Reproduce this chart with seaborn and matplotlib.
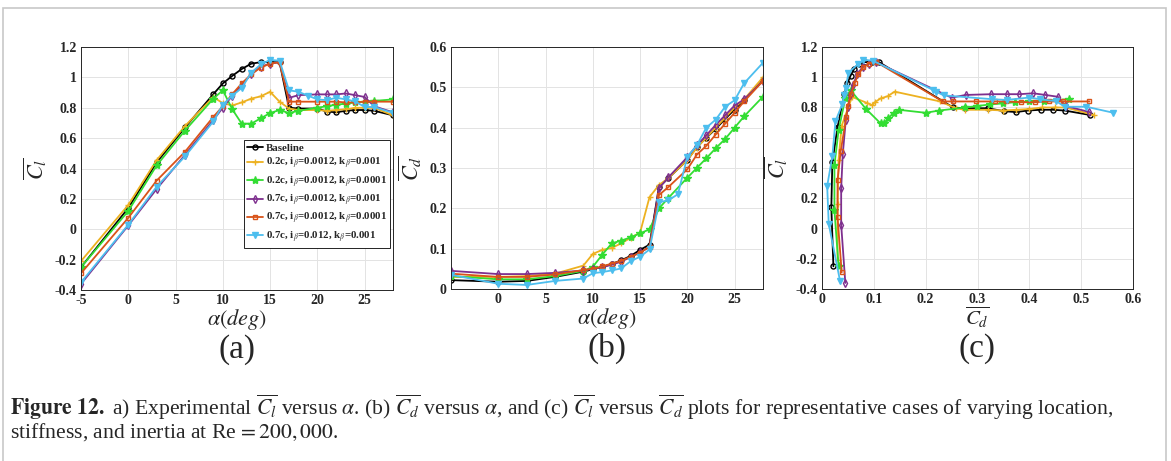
import numpy as np
import pandas as pd
import matplotlib
matplotlib.use("Agg")
import matplotlib.pyplot as plt
import seaborn as sns
from matplotlib.patches import Rectangle
from matplotlib.ticker import FuncFormatter

# ---------------- data ----------------
alpha = [-5, 0, 3, 6, 9, 10, 11, 12, 13, 14, 15, 16, 17, 18, 20, 21, 22, 23, 24, 25, 26, 28]
alpha_blue = [-5, 0, 3, 6, 9, 10, 11, 12, 13, 14, 15, 16, 17, 18, 19, 20, 21, 22, 23, 24, 25, 26, 28]

cl_base = [-0.25, 0.14, 0.44, 0.67, 0.89, 0.96, 1.01, 1.055, 1.09, 1.10, 1.10, 1.10,
           0.80, 0.795, 0.795, 0.775, 0.77, 0.78, 0.785, 0.785, 0.78, 0.75]
cd_base = [0.022, 0.018, 0.020, 0.030, 0.043, 0.049, 0.055, 0.062, 0.071, 0.082, 0.097, 0.110,
           0.253, 0.275, 0.320, 0.352, 0.375, 0.397, 0.422, 0.445, 0.468, 0.518]

cl_yellow = [-0.21, 0.16, 0.455, 0.68, 0.87, 0.83, 0.815, 0.835, 0.86, 0.875, 0.905, 0.84,
             0.795, 0.785, 0.785, 0.78, 0.785, 0.79, 0.80, 0.80, 0.80, 0.75]
cd_yellow = [0.030, 0.030, 0.032, 0.038, 0.058, 0.087, 0.097, 0.102, 0.113, 0.127, 0.140, 0.228,
             0.258, 0.275, 0.320, 0.350, 0.375, 0.400, 0.425, 0.450, 0.470, 0.525]

cl_green = [-0.25, 0.12, 0.42, 0.65, 0.86, 0.915, 0.79, 0.695, 0.695, 0.73, 0.765, 0.785,
            0.765, 0.78, 0.80, 0.81, 0.82, 0.827, 0.835, 0.84, 0.845, 0.855]
cd_green = [0.032, 0.024, 0.024, 0.032, 0.045, 0.055, 0.085, 0.113, 0.120, 0.128, 0.138, 0.148,
            0.200, 0.226, 0.276, 0.300, 0.324, 0.349, 0.372, 0.400, 0.428, 0.477]

cl_purple = [-0.36, 0.025, 0.265, 0.49, 0.72, 0.80, 0.88, 0.95, 1.02, 1.07, 1.09, 1.10,
             0.865, 0.883, 0.888, 0.888, 0.888, 0.894, 0.883, 0.871, 0.81, 0.77]
cd_purple = [0.045, 0.037, 0.037, 0.040, 0.046, 0.050, 0.054, 0.060, 0.068, 0.079, 0.091, 0.104,
             0.250, 0.277, 0.327, 0.356, 0.381, 0.407, 0.431, 0.455, 0.470, 0.516]

cl_orange = [-0.29, 0.075, 0.32, 0.51, 0.74, 0.81, 0.89, 0.96, 1.02, 1.065, 1.09, 1.10,
             0.84, 0.84, 0.84, 0.84, 0.84, 0.835, 0.835, 0.84, 0.84, 0.84]
cd_orange = [0.038, 0.030, 0.030, 0.036, 0.047, 0.050, 0.056, 0.063, 0.070, 0.080, 0.090, 0.105,
             0.233, 0.253, 0.297, 0.333, 0.355, 0.383, 0.410, 0.437, 0.465, 0.516]

cl_blue = [-0.35, 0.03, 0.28, 0.48, 0.71, 0.82, 0.88, 0.93, 1.03, 1.085, 1.115, 1.11,
           0.915, 0.905, 0.88, 0.855, 0.85, 0.866, 0.855, 0.842, 0.805, 0.805, 0.766]
cd_blue = [0.035, 0.013, 0.010, 0.020, 0.026, 0.039, 0.042, 0.046, 0.051, 0.069, 0.080, 0.098,
           0.215, 0.220, 0.235, 0.328, 0.356, 0.400, 0.420, 0.452, 0.468, 0.510, 0.561]

labels = ["Baseline",
          r"0.2c, i$_\beta$=0.0012, k$_\beta$=0.001",
          r"0.2c, i$_\beta$=0.0012, k$_\beta$=0.0001",
          r"0.7c, i$_\beta$=0.0012, k$_\beta$=0.001",
          r"0.7c, i$_\beta$=0.0012, k$_\beta$=0.0001",
          r"0.7c, i$_\beta$=0.012, k$_\beta$=0.001"]

series = [
    (alpha, cl_base, cd_base, "#000000", "o", 3.6, "none"),
    (alpha, cl_yellow, cd_yellow, "#EDB120", "+", 4.5, "none"),
    (alpha, cl_green, cd_green, "#33DD33", "*", 6.0, "#33DD33"),
    (alpha, cl_purple, cd_purple, "#7E2F8E", "d", 4.2, "none"),
    (alpha, cl_orange, cd_orange, "#D95319", "s", 3.4, "none"),
    (alpha_blue, cl_blue, cd_blue, "#4DBEEE", "v", 4.6, "#4DBEEE"),
]

# ---------------- style ----------------
sns.set_style("whitegrid")
plt.rcParams.update({
    "font.family": ["Liberation Serif", "DejaVu Serif"],
    "mathtext.fontset": "stix",
    "axes.edgecolor": "#262626",
    "axes.linewidth": 0.7,
    "grid.color": "#e3e3e3",
    "grid.linewidth": 0.7,
})

fig = plt.figure(figsize=(11.71, 4.61), dpi=100)
W, H = 1171, 461


def ax_at(l, t, r, b):
    return fig.add_axes([l / W, 1 - b / H, (r - l) / W, (b - t) / H])


axa = ax_at(81, 47, 393, 290)
axb = ax_at(451, 47, 763, 289)
axc = ax_at(822, 47, 1133, 289)

for (al, cl, cd, col, mk, ms, mfc), lab in zip(series, labels):
    df = pd.DataFrame({"alpha": al, "cl": cl, "cd": cd})
    kw = dict(color=col, marker=mk, markersize=ms, markerfacecolor=mfc,
              markeredgecolor=col, markeredgewidth=1.0, linewidth=1.3,
              sort=False, estimator=None)
    sns.lineplot(data=df, x="alpha", y="cl", ax=axa, label=lab, **kw)
    sns.lineplot(data=df, x="alpha", y="cd", ax=axb, **kw)
    sns.lineplot(data=df, x="cd", y="cl", ax=axc, **kw)

fmt = FuncFormatter(lambda v, p: f"{round(v, 3) + 0:g}")

axa.set_xlim(-5, 28)
axa.set_ylim(-0.4, 1.2)
axa.set_xticks([-5, 0, 5, 10, 15, 20, 25])
axa.set_yticks(np.arange(-0.4, 1.21, 0.2))

axb.set_xlim(-5, 28)
axb.set_ylim(0, 0.6)
axb.set_xticks([0, 5, 10, 15, 20, 25])
axb.set_yticks(np.arange(0, 0.61, 0.1))

axc.set_xlim(0, 0.6)
axc.set_ylim(-0.4, 1.2)
axc.set_xticks(np.arange(0, 0.61, 0.1))
axc.set_yticks(np.arange(-0.4, 1.21, 0.2))

for ax in (axa, axb, axc):
    ax.xaxis.set_major_formatter(fmt)
    ax.yaxis.set_major_formatter(fmt)
    ax.tick_params(direction="in", length=3, width=0.6, pad=3)
    for t in ax.get_xticklabels() + ax.get_yticklabels():
        t.set_fontweight("bold")
        t.set_fontsize(10)
    for s in ax.spines.values():
        s.set_visible(True)
        s.set_color("#262626")
    ax.grid(True)

axa.set_xlabel(r"$\alpha(deg)$", fontsize=16, labelpad=0)
axa.set_ylabel(r"$\overline{C_l}$", fontsize=16, labelpad=4)
axb.set_xlabel(r"$\alpha(deg)$", fontsize=16, labelpad=0)
axb.set_ylabel(r"$\overline{C_d}$", fontsize=16, labelpad=4)
axc.set_xlabel(r"$\overline{C_d}$", fontsize=15, labelpad=-1)
axc.set_ylabel(r"$\overline{C_l}$", fontsize=16, labelpad=4)

for ax, tag in ((axa, "(a)"), (axb, "(b)"), (axc, "(c)")):
    ax.text(0.5, -0.245, tag, transform=ax.transAxes, ha="center", va="center",
            fontsize=24)

leg = axa.legend(loc="upper left", bbox_to_anchor=(0.522, 0.617),
                 prop={"weight": "bold", "size": 7.8}, frameon=True, fancybox=False,
                 edgecolor="black", framealpha=1, handlelength=1.5, handletextpad=0.2,
                 labelspacing=0.3, borderpad=0.3, borderaxespad=0)
leg.get_frame().set_linewidth(0.6)

# caption
fig.text(10 / W, 1 - 407 / H,
         r"$\mathbf{Figure\ 12.}$ a) Experimental $\overline{C_l}$ versus $\alpha$. (b) $\overline{C_d}$ versus $\alpha$, "
         r"and (c) $\overline{C_l}$ versus $\overline{C_d}$ plots for representative cases of varying location,",
         ha="left", va="center", fontsize=15.6)
fig.text(10 / W, 1 - 432 / H, r"stiffness, and inertia at Re$\,=200,000$.",
         ha="left", va="center", fontsize=15.6)

# outer frame
fig.patches.append(Rectangle((3 / W, -0.05), 1163 / W, 1.05 - 8 / H, transform=fig.transFigure,
                             fill=False, edgecolor="#c8c8c8", linewidth=1.2))

fig.savefig("out.png", dpi=100)
